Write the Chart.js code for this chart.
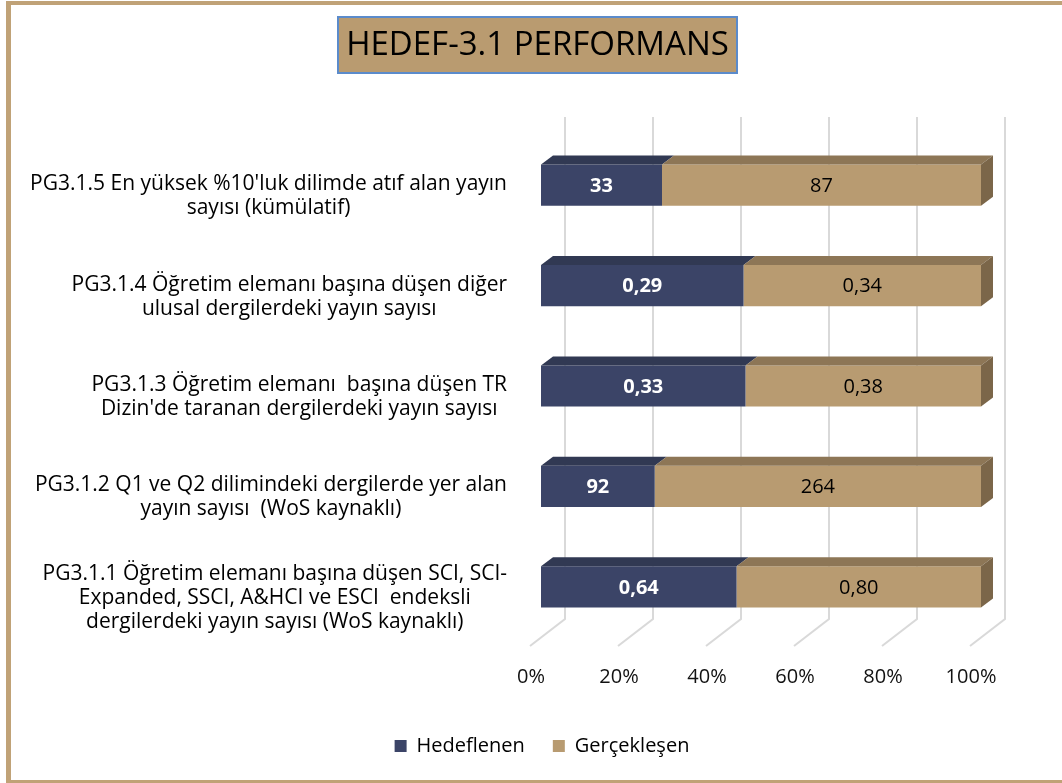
<!DOCTYPE html>
<html lang="tr">
<head>
<meta charset="utf-8">
<title>HEDEF-3.1 PERFORMANS</title>
<script src="https://cdn.jsdelivr.net/npm/chart.js@4.4.1/dist/chart.umd.min.js"></script>
<style>
  html, body { margin: 0; padding: 0; background: #fff; }
  #wrap { width: 1062px; height: 783px; }
</style>
</head>
<body>
<div id="wrap"><canvas id="chart" width="1062" height="783"></canvas></div>
<script>
(function () {
  "use strict";

  var TITLE = "HEDEF-3.1 PERFORMANS";
  // top to bottom, as shown
  var categories = [
    ["PG3.1.5 En yüksek %10'luk dilimde atıf alan yayın", "sayısı (kümülatif)"],
    ["PG3.1.4 Öğretim elemanı başına düşen diğer", "ulusal dergilerdeki yayın sayısı"],
    ["PG3.1.3 Öğretim elemanı  başına düşen TR", "Dizin'de taranan dergilerdeki yayın sayısı"],
    ["PG3.1.2 Q1 ve Q2 dilimindeki dergilerde yer alan", "yayın sayısı  (WoS kaynaklı)"],
    ["PG3.1.1 Öğretim elemanı başına düşen SCI, SCI-", "Expanded, SSCI, A&HCI ve ESCI  endeksli", "dergilerdeki yayın sayısı (WoS kaynaklı)"]
  ];
  var hedeflenen = [33, 0.29, 0.33, 92, 0.64];
  var gerceklesen = [87, 0.34, 0.38, 264, 0.80];
  var seriesNames = ["Hedeflenen", "Gerçekleşen"];
  var xTicks = [0, 20, 40, 60, 80, 100];

  var NAVY = "#3B4467", NAVY_TOP = "#313953";
  var TAN = "#B89B71", TAN_TOP = "#8D7656", TAN_SIDE = "#7B6649";
  var FRAME = "#C0A277", GRID = "#D9D9D9";
  var FONT = "'Open Sans', 'Noto Sans', sans-serif";
  var DX = 12, DY = 9; // bar depth

  function share(a, b) {
    return a.map(function (v, i) { return v / (v + b[i]) * 100; });
  }
  function fmt(v) {
    return v % 1 === 0 ? String(v) : v.toFixed(2).replace(".", ",");
  }

  var backdrop = {
    id: "backdrop",
    beforeDraw: function (chart) {
      var ctx = chart.ctx;
      ctx.save();
      ctx.fillStyle = "#fff";
      ctx.fillRect(0, 0, chart.width, chart.height);
      ctx.fillStyle = FRAME;
      ctx.fillRect(6, 1, chart.width - 6, 4);
      ctx.fillRect(6, 1, 5, chart.height - 1);
      ctx.fillRect(6, chart.height - 3, chart.width - 6, 3);
      // title box
      ctx.fillStyle = "#B99B70";
      ctx.fillRect(338, 17, 399, 56);
      ctx.strokeStyle = "#5B8BCB";
      ctx.lineWidth = 2;
      ctx.strokeRect(338, 17, 399, 56);
      ctx.fillStyle = "#000";
      ctx.font = "33px " + FONT;
      ctx.textAlign = "center";
      ctx.textBaseline = "middle";
      ctx.fillText(TITLE, 537.5, 46);
      ctx.restore();
    },
    beforeDatasetsDraw: function (chart) {
      var ctx = chart.ctx, a = chart.chartArea, xs = chart.scales.x;
      ctx.save();
      ctx.strokeStyle = GRID;
      ctx.lineWidth = 2;
      xTicks.forEach(function (t) {
        var px = xs.getPixelForValue(t);
        ctx.beginPath();
        ctx.moveTo(px + 24, a.top - 18);
        ctx.lineTo(px + 24, a.bottom - 18);
        ctx.lineTo(px - 11, a.bottom + 9);
        ctx.stroke();
      });
      ctx.restore();
    },
    afterDatasetsDraw: function (chart) {
      var ctx = chart.ctx;
      var n = chart.data.datasets.length;
      ctx.save();
      chart.data.datasets.forEach(function (ds, i) {
        var meta = chart.getDatasetMeta(i);
        meta.data.forEach(function (el, j) {
          var p = el.getProps(["x", "y", "base", "height"], true);
          var x0 = Math.min(p.x, p.base), x1 = Math.max(p.x, p.base);
          var top = p.y - p.height / 2, bot = p.y + p.height / 2;
          ctx.fillStyle = i === 0 ? NAVY_TOP : TAN_TOP;
          ctx.beginPath();
          ctx.moveTo(x0, top);
          ctx.lineTo(x0 + DX, top - DY);
          ctx.lineTo(x1 + DX, top - DY);
          ctx.lineTo(x1, top);
          ctx.closePath();
          ctx.fill();
          if (i === n - 1) {
            ctx.fillStyle = TAN_SIDE;
            ctx.beginPath();
            ctx.moveTo(x1, top);
            ctx.lineTo(x1 + DX, top - DY);
            ctx.lineTo(x1 + DX, bot - DY);
            ctx.lineTo(x1, bot);
            ctx.closePath();
            ctx.fill();
          }
          ctx.textAlign = "center";
          ctx.textBaseline = "middle";
          ctx.font = (i === 0 ? "bold " : "") + "20px " + FONT;
          ctx.fillStyle = i === 0 ? "#fff" : "#000";
          ctx.fillText(fmt(ds.raw[j]), (x0 + x1) / 2, p.y + 1);
        });
      });
      ctx.restore();
    },
    afterDraw: function (chart) {
      var ctx = chart.ctx, ys = chart.scales.y;
      ctx.save();
      ctx.font = "21px " + FONT;
      ctx.fillStyle = "#000";
      ctx.textAlign = "center";
      ctx.textBaseline = "middle";
      categories.forEach(function (lines, j) {
        var w = 0;
        lines.forEach(function (l) { w = Math.max(w, ctx.measureText(l).width); });
        var cx = 507 - w / 2;
        var cy = ys.getPixelForValue(j) + 11;
        var lh = 24;
        lines.forEach(function (l, k) {
          ctx.fillText(l, cx, cy - (lines.length - 1) * lh / 2 + k * lh);
        });
      });
      ctx.restore();
    }
  };

  new Chart(document.getElementById("chart").getContext("2d"), {
    type: "bar",
    data: {
      labels: categories,
      datasets: [
        { label: seriesNames[0], data: share(hedeflenen, gerceklesen), raw: hedeflenen, backgroundColor: NAVY, borderWidth: 0 },
        { label: seriesNames[1], data: share(gerceklesen, hedeflenen), raw: gerceklesen, backgroundColor: TAN, borderWidth: 0 }
      ]
    },
    options: {
      indexAxis: "y",
      responsive: false,
      animation: false,
      layout: { padding: { top: 135, left: 103, right: 81, bottom: 17 } },
      datasets: { bar: { categoryPercentage: 1, barPercentage: 0.41 } },
      scales: {
        x: {
          stacked: true, min: 0, max: 100,
          grid: { display: false, drawTicks: false },
          border: { display: false },
          ticks: {
            stepSize: 20, padding: 28, labelOffset: -10, color: "#111",
            font: { family: FONT, size: 20 },
            callback: function (v) { return v + "%"; }
          },
          afterFit: function (s) { s.height = 71; }
        },
        y: {
          stacked: true,
          grid: { display: false },
          border: { display: false },
          ticks: { display: false },
          afterFit: function (s) { s.width = 438; }
        }
      },
      plugins: {
        legend: {
          position: "bottom",
          labels: { boxWidth: 12, boxHeight: 12, padding: 28, color: "#000", font: { family: FONT, size: 20 } }
        },
        tooltip: { enabled: false },
        title: { display: false }
      }
    },
    plugins: [backdrop]
  });
})();
</script>
</body>
</html>
